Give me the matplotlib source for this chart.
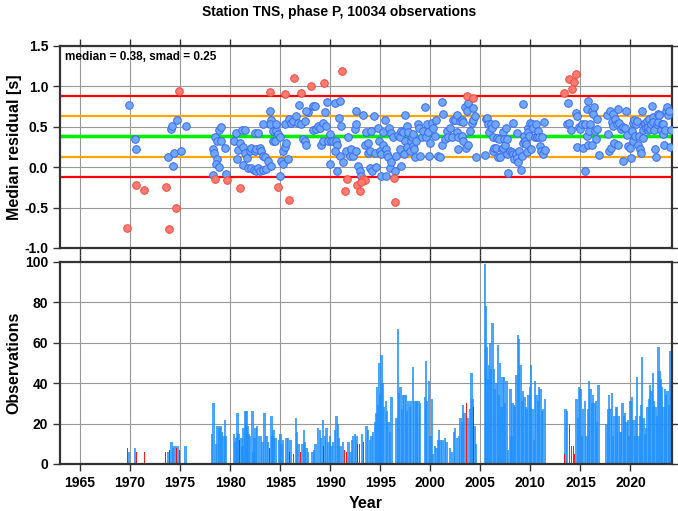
import numpy as np
import matplotlib.pyplot as plt

station = "TNS"
phase = "P"
n_obs = 10034
median = 0.38
smad = 0.25

years_ticks = list(range(1965, 2021, 5))

# median residual per time bin (year, residual [s]) - inside 2 smad
blue_pts = np.array([
    (1969.92, 0.77), (1970.45, 0.35), (1970.55, 0.22), (1973.80, 0.12), (1974.25, 0.01),
    (1974.10, 0.47), (1974.20, 0.51), (1974.70, 0.59), (1974.40, 0.18), (1975.05, 0.20),
    (1975.55, 0.51),
    (1978.25, -0.10), (1978.32, 0.23), (1978.38, 0.17), (1978.45, 0.37), (1978.65, 0.32),
    (1978.72, 0.10), (1978.55, 0.04), (1978.85, 0.00), (1978.92, 0.46), (1979.12, 0.50),
    (1979.12, 0.32), (1979.48, 0.24), (1979.58, -0.08), (1980.42, 0.32), (1980.58, 0.42),
    (1980.78, 0.21), (1980.72, 0.10), (1981.18, 0.46), (1981.52, 0.46), (1980.95, 0.30),
    (1981.28, 0.25), (1981.45, 0.18), (1981.72, 0.11), (1981.32, 0.03), (1981.78, -0.01),
    (1981.95, 0.20), (1982.12, 0.24), (1982.45, 0.20), (1982.62, 0.22), (1982.95, 0.24),
    (1983.12, 0.20), (1983.28, 0.14), (1983.45, 0.12), (1982.12, -0.01), (1982.35, -0.03),
    (1982.55, -0.05), (1982.78, -0.01), (1982.95, -0.05), (1983.28, -0.03), (1983.62, -0.02),
    (1983.78, 0.08), (1984.12, 0.02), (1984.28, 0.33), (1984.45, 0.32), (1983.95, 0.70),
    (1984.12, 0.59), (1984.02, 0.54), (1983.28, 0.54), (1982.45, 0.42), (1982.78, 0.42),
    (1984.28, 0.45), (1984.62, 0.45), (1984.78, 0.41), (1984.55, 0.53), (1984.95, 0.37),
    (1985.02, -0.11), (1985.28, 0.20), (1985.45, 0.25), (1985.62, 0.30), (1985.12, 0.08),
    (1985.28, 0.04), (1985.45, 0.53), (1985.78, 0.10), (1985.88, 0.60), (1986.12, 0.55),
    (1986.28, 0.57), (1986.62, 0.63), (1986.78, 0.55), (1986.88, 0.77), (1987.12, 0.53),
    (1987.28, 0.35), (1987.45, 0.32), (1987.62, 0.28), (1987.45, 0.57), (1987.78, 0.68),
    (1987.62, 0.70), (1988.28, 0.76), (1988.45, 0.76), (1988.28, 0.46), (1988.62, 0.47),
    (1988.78, 0.51), (1988.95, 0.49), (1989.12, 0.28), (1989.28, 0.32), (1989.45, 0.68),
    (1989.28, 0.55), (1989.62, 0.51), (1989.68, 0.81), (1989.95, 0.41), (1989.78, 0.33),
    (1990.12, 0.32), (1990.28, 0.33), (1990.45, 0.79), (1990.62, 0.32), (1990.68, 0.28),
    (1990.88, 0.61), (1990.95, 0.14), (1991.02, 0.82), (1991.12, 0.51), (1989.95, 0.04),
    (1990.45, 0.20), (1990.68, -0.05), (1991.28, 0.06), (1991.62, 0.20), (1991.78, 0.37),
    (1991.95, 0.14), (1992.12, 0.23), (1992.28, 0.14), (1992.45, 0.47), (1992.55, 0.53),
    (1992.62, 0.69), (1992.62, 0.20), (1992.78, 0.01), (1992.95, -0.05), (1993.12, -0.11),
    (1993.28, 0.65), (1993.45, 0.28), (1993.62, 0.43), (1993.78, 0.30), (1993.78, 0.18),
    (1993.95, 0.20), (1994.12, 0.45), (1994.02, -0.01), (1994.22, -0.05), (1994.35, 0.63),
    (1994.45, 0.18), (1994.62, 0.00), (1994.78, 0.48), (1994.88, 0.32), (1994.95, 0.20),
    (1995.12, -0.11), (1995.12, 0.16), (1995.28, 0.28), (1995.28, 0.43), (1995.45, 0.58),
    (1995.62, 0.23), (1995.62, -0.11), (1995.68, 0.16), (1995.78, 0.12), (1995.88, 0.49),
    (1995.95, -0.01), (1996.12, 0.06), (1996.12, 0.42), (1996.28, 0.37), (1996.45, -0.05),
    (1996.62, 0.14), (1996.78, 0.40), (1996.95, 0.37), (1996.95, 0.22), (1997.12, 0.01),
    (1997.12, 0.45), (1997.28, 0.43), (1997.35, 0.16), (1997.45, 0.65), (1997.45, 0.32),
    (1997.62, 0.51), (1997.62, 0.25), (1997.78, 0.43), (1997.95, 0.20), (1998.02, 0.32),
    (1998.12, 0.37), (1998.22, 0.26), (1998.28, 0.41), (1998.35, 0.22), (1998.45, 0.12),
    (1998.55, 0.32), (1998.78, 0.53), (1998.88, 0.48), (1998.95, 0.14), (1999.12, 0.37),
    (1999.28, 0.45), (1999.45, 0.74), (1999.55, 0.37), (1999.62, 0.53), (1999.78, 0.43),
    (1999.88, 0.14), (1999.95, 0.30), (2000.12, 0.55), (2000.22, 0.48), (2000.45, 0.39),
    (2000.55, 0.58), (2000.78, 0.14), (2000.95, 0.12), (2001.12, 0.81), (2001.12, 0.28),
    (2001.28, 0.66), (2001.45, 0.35), (2001.62, 0.45), (2001.78, 0.37),
    (2001.95, 0.49), (2002.12, 0.37), (2002.28, 0.59), (2002.45, 0.58), (2002.62, 0.65),
    (2002.68, 0.44), (2002.78, 0.37), (2002.78, 0.22), (2002.95, 0.57), (2003.12, 0.59),
    (2003.12, 0.39), (2003.28, 0.56), (2003.28, 0.33), (2003.45, 0.74), (2003.55, 0.24),
    (2003.62, 0.70), (2003.78, 0.79), (2003.78, 0.28), (2003.95, 0.45), (2004.12, 0.55),
    (2004.22, 0.73), (2004.28, 0.58), (2004.45, 0.63), (2004.52, 0.12),
    (2005.45, 0.15), (2005.55, 0.60), (2005.62, 0.61), (2005.78, 0.53), (2005.88, 0.43),
    (2006.02, 0.54), (2006.12, 0.48), (2006.22, 0.37), (2006.28, 0.20), (2006.38, 0.24),
    (2006.45, 0.53), (2006.55, 0.24), (2006.62, 0.36), (2006.78, 0.13), (2006.88, 0.35),
    (2006.95, 0.12), (2007.12, 0.22), (2007.22, 0.24), (2007.28, 0.44), (2007.38, 0.35),
    (2007.45, 0.28), (2007.55, 0.48), (2007.62, 0.35), (2007.68, 0.16), (2007.78, -0.07),
    (2007.95, 0.20), (2008.12, 0.19), (2008.22, 0.55), (2008.28, 0.16), (2008.38, 0.10),
    (2008.52, 0.16), (2008.62, 0.42), (2008.68, 0.11), (2008.78, 0.06), (2008.88, 0.20),
    (2009.02, -0.03), (2009.12, 0.14), (2009.22, 0.30), (2009.28, 0.78), (2009.35, 0.39),
    (2009.45, 0.32), (2009.55, 0.29), (2009.62, 0.19), (2009.72, 0.48), (2009.78, 0.43),
    (2009.88, 0.39), (2009.95, 0.55), (2010.02, 0.22), (2010.12, 0.54), (2010.28, 0.49),
    (2010.45, 0.37), (2010.55, 0.54), (2010.62, 0.37), (2010.78, 0.45), (2010.88, 0.37),
    (2010.95, 0.26), (2011.02, 0.20), (2011.12, 0.37), (2011.22, 0.16), (2011.38, 0.56),
    (2011.45, 0.21),
    (2013.78, 0.79), (2013.62, 0.54), (2013.88, 0.55), (2014.02, 0.46), (2014.55, 0.67),
    (2014.62, 0.63), (2014.68, 0.25), (2014.88, 0.50), (2014.95, 0.47), (2015.12, 0.53),
    (2015.22, 0.24), (2015.45, 0.53), (2015.45, -0.05), (2015.62, 0.72), (2015.62, 0.39),
    (2015.72, 0.82), (2015.78, 0.27), (2015.88, 0.45), (2015.95, 0.53), (2016.12, 0.27),
    (2016.12, 0.70), (2016.22, 0.66), (2016.35, 0.74), (2016.45, 0.45), (2016.55, 0.35),
    (2016.62, 0.60), (2016.68, 0.47), (2016.85, 0.15), (2017.62, 0.65), (2017.78, 0.41),
    (2017.88, 0.20), (2017.95, 0.70), (2018.02, 0.24), (2018.12, 0.56), (2018.22, 0.66),
    (2018.28, 0.51), (2018.35, 0.30), (2018.45, 0.60), (2018.62, 0.53), (2018.72, 0.72),
    (2018.78, 0.28), (2018.88, 0.55), (2019.02, 0.47), (2019.22, 0.08), (2019.28, 0.50),
    (2019.45, 0.48), (2019.55, 0.70), (2019.68, 0.40), (2019.78, 0.26), (2019.95, 0.24),
    (2020.05, 0.11), (2020.12, 0.45), (2020.22, 0.55), (2020.28, 0.33), (2020.35, 0.58),
    (2020.45, 0.39), (2020.55, 0.53), (2020.62, 0.57), (2020.78, 0.28), (2020.88, 0.39),
    (2020.95, 0.22), (2021.05, 0.18), (2021.12, 0.69), (2021.22, 0.36), (2021.28, 0.46),
    (2021.35, 0.54), (2021.45, 0.55), (2021.55, 0.48), (2021.62, 0.57), (2021.72, 0.46),
    (2021.78, 0.50), (2021.88, 0.60), (2021.95, 0.47), (2022.02, 0.54), (2022.12, 0.76),
    (2022.22, 0.62), (2022.28, 0.56), (2022.38, 0.46), (2022.45, 0.22), (2022.55, 0.12),
    (2022.62, 0.54), (2022.72, 0.66), (2022.78, 0.56), (2022.88, 0.65), (2023.02, 0.46),
    (2023.12, 0.54), (2023.22, 0.41), (2023.28, 0.54), (2023.35, 0.28), (2023.45, 0.46),
    (2023.55, 0.69), (2023.68, 0.74), (2023.78, 0.65), (2023.88, 0.70), (2023.95, 0.25),
    (2024.02, 0.46),
])

# bins outside 2 smad
red_pts = np.array([
    (1969.70, -0.75), (1970.60, -0.22), (1971.40, -0.28), (1973.55, -0.25), (1973.90, -0.77),
    (1974.60, -0.51), (1974.85, 0.94), (1978.50, -0.14), (1979.70, -0.16), (1980.95, -0.26),
    (1983.95, 0.93), (1986.38, 1.11), (1985.52, 0.90), (1987.05, 0.92), (1988.08, 1.01),
    (1989.35, 1.04), (1991.22, 1.19), (1984.82, -0.24), (1985.92, -0.40), (1991.65, -0.14),
    (1991.45, -0.29), (1992.72, -0.22), (1992.98, -0.30), (1993.28, -0.14), (1993.45, -0.16),
    (1993.12, -0.18), (1996.52, -0.43), (1996.35, -0.13), (2003.62, 0.88), (2004.28, 0.86),
    (2013.38, 0.92), (2013.85, 1.09), (2014.35, 1.06), (2014.52, 1.15), (2014.15, 0.97),
])

# observations per bin (year, count)
bar_pts = np.array([
    (1969.88, 6), (1970.48, 8), (1973.78, 6), (1974.12, 11), (1974.28, 8), (1974.45, 9),
    (1974.72, 9), (1975.52, 9),
    (1978.18, 15), (1978.32, 30), (1978.58, 10), (1978.72, 19), (1978.92, 18), (1979.05, 19),
    (1979.18, 16), (1979.32, 14), (1979.48, 22), (1979.58, 14), (1980.38, 15), (1980.52, 11),
    (1980.65, 13), (1980.75, 25), (1980.85, 15), (1981.12, 13), (1981.22, 9), (1981.35, 18),
    (1981.52, 26), (1981.65, 26), (1981.72, 19), (1981.85, 15), (1981.98, 14), (1982.22, 26),
    (1982.35, 6), (1982.45, 13), (1982.55, 18), (1982.68, 19), (1982.88, 14), (1983.08, 14),
    (1983.22, 11), (1983.42, 25), (1983.62, 14), (1983.78, 11), (1984.12, 24), (1984.22, 14),
    (1984.35, 17), (1984.52, 13), (1984.88, 12), (1985.02, 15), (1985.15, 10), (1985.28, 12),
    (1985.62, 13), (1985.78, 13), (1986.02, 12), (1986.55, 23), (1986.68, 16), (1986.82, 10),
    (1987.22, 10), (1987.35, 17), (1987.48, 11), (1987.62, 8), (1987.75, 6), (1988.22, 6),
    (1988.38, 7), (1988.52, 10), (1988.75, 18), (1988.95, 17), (1989.08, 13), (1989.28, 22),
    (1989.48, 14), (1989.62, 18), (1989.82, 11), (1989.95, 14), (1990.12, 9), (1990.28, 11),
    (1990.48, 17), (1990.62, 24), (1990.75, 20), (1990.88, 13), (1991.02, 9), (1991.28, 11),
    (1991.82, 11), (1992.02, 6), (1992.15, 12), (1992.28, 14), (1992.48, 15), (1992.62, 14),
    (1993.15, 15), (1993.62, 19), (1993.75, 17), (1993.95, 12), (1994.12, 14), (1994.28, 16),
    (1994.45, 21), (1994.55, 25), (1994.65, 38), (1994.75, 29), (1994.88, 50), (1994.98, 34),
    (1995.12, 54), (1995.22, 40), (1995.35, 28), (1995.55, 31), (1995.68, 26), (1995.82, 21),
    (1995.95, 16), (1996.12, 33), (1996.62, 23), (1996.78, 67), (1996.88, 35), (1997.02, 38),
    (1997.15, 27), (1997.28, 34), (1997.42, 34), (1997.55, 34), (1997.68, 26), (1997.82, 31),
    (1997.95, 28), (1998.08, 31), (1998.28, 48), (1998.42, 31), (1998.55, 31), (1998.68, 31),
    (1998.82, 31), (1998.95, 30), (1999.45, 33), (1999.55, 51), (1999.68, 31), (1999.88, 41),
    (2000.02, 14), (2000.15, 32), (2000.28, 5), (2000.48, 9), (2000.62, 8), (2000.75, 12),
    (2000.88, 17), (2001.02, 12), (2001.22, 12), (2001.45, 13), (2001.62, 11), (2001.95, 8),
    (2002.15, 6), (2002.35, 16), (2002.48, 18), (2002.68, 13), (2002.88, 14), (2003.02, 23),
    (2003.15, 21), (2003.28, 29), (2003.42, 25), (2003.78, 23), (2003.95, 27), (2004.12, 45),
    (2004.22, 32), (2004.45, 19), (2004.55, 10),
    (2005.45, 99), (2005.55, 78), (2005.62, 58), (2005.75, 42), (2005.88, 49), (2005.95, 60),
    (2006.08, 47), (2006.22, 70), (2006.35, 47), (2006.48, 37), (2006.62, 40), (2006.75, 59),
    (2006.88, 34), (2006.98, 50), (2007.12, 28), (2007.22, 43), (2007.35, 43), (2007.48, 30),
    (2007.62, 41), (2007.75, 7), (2008.02, 37), (2008.12, 14), (2008.22, 30), (2008.35, 29),
    (2008.48, 28), (2008.62, 44), (2008.75, 64), (2008.88, 62), (2009.02, 49), (2009.15, 31),
    (2009.28, 36), (2009.42, 33), (2009.55, 28), (2009.68, 27), (2009.82, 34), (2009.95, 38),
    (2010.08, 49), (2010.22, 27), (2010.35, 12), (2010.48, 41), (2010.62, 34), (2010.75, 31),
    (2010.88, 38), (2011.02, 37), (2011.15, 26), (2011.28, 27), (2011.45, 32),
    (2013.52, 27), (2013.65, 26), (2014.62, 32), (2014.75, 23), (2014.88, 38), (2015.02, 37),
    (2015.15, 14), (2015.28, 27), (2015.45, 31), (2015.62, 14), (2015.75, 27), (2015.88, 41),
    (2016.02, 37), (2016.15, 30), (2016.28, 34), (2016.42, 30), (2016.55, 31), (2016.68, 21),
    (2016.82, 39), (2017.62, 20), (2017.75, 27), (2017.88, 34), (2018.02, 27), (2018.15, 35),
    (2018.28, 14), (2018.42, 24), (2018.55, 28), (2018.68, 28), (2018.82, 24), (2018.95, 16),
    (2019.08, 16), (2019.22, 30), (2019.35, 24), (2019.48, 25), (2019.62, 21), (2019.75, 22),
    (2019.88, 14), (2020.02, 31), (2020.15, 33), (2020.28, 22), (2020.42, 14), (2020.55, 24),
    (2020.65, 43), (2020.78, 14), (2020.92, 24), (2021.05, 29), (2021.15, 53), (2021.28, 23),
    (2021.42, 15), (2021.55, 18), (2021.68, 28), (2021.82, 32), (2021.95, 39), (2022.08, 36),
    (2022.22, 45), (2022.35, 31), (2022.48, 28), (2022.62, 24), (2022.78, 58), (2022.88, 46),
    (2023.02, 42), (2023.15, 38), (2023.28, 28), (2023.42, 37), (2023.55, 34), (2023.68, 36),
    (2023.82, 29), (2023.95, 56), (2024.05, 41),
])

red_bar_pts = np.array([
    (1969.72, 8), (1970.62, 6), (1971.42, 6), (1973.52, 6), (1973.95, 7), (1974.62, 8),
    (1974.92, 7), (1978.48, 14), (1979.68, 11), (1980.95, 12), (1983.95, 8), (1984.78, 5),
    (1985.48, 13), (1985.92, 6), (1986.35, 5), (1987.05, 6), (1988.08, 5), (1989.35, 9),
    (1991.18, 7), (1991.45, 7), (1991.62, 6), (1992.75, 10), (1992.95, 10), (1993.35, 11),
    (1993.48, 12), (1996.28, 50), (1996.38, 12), (2003.62, 30), (2004.28, 28), (2013.38, 5),
    (2013.88, 20), (2014.12, 9), (2014.28, 9), (2014.42, 5),
])

plt.rcParams['font.family'] = ['Liberation Sans', 'DejaVu Sans']
plt.rcParams['font.weight'] = 'bold'

fig = plt.figure(figsize=(6.78, 5.11), dpi=100)
ax1 = fig.add_axes([0.0885, 0.5147, 0.9027, 0.3953])
ax2 = fig.add_axes([0.0885, 0.092, 0.9027, 0.3953])

for ax in (ax1, ax2):
    ax.set_xlim(1963, 2024.15)
    ax.set_xticks(years_ticks)
    ax.grid(True, color='#999999', linewidth=0.8)
    ax.set_axisbelow(True)
    ax.tick_params(direction='out', length=5, width=1, top=True, right=True,
                   labelsize=10, color='#333333')
    for s in ax.spines.values():
        s.set_linewidth(1.6)
        s.set_color('#333333')

# top: median residuals
for k, col, lw in [(2, 'red', 1.6), (1, 'orange', 1.6), (0, '#00ee00', 2.4)]:
    for sgn in (-1, 1):
        ax1.axhline(median + sgn * k * smad, color=col, lw=lw, zorder=2)
ax1.scatter(blue_pts[:, 0], blue_pts[:, 1], s=30, c='#6fa6ff', edgecolors='#3a6cf0',
            linewidths=0.7, zorder=3)
ax1.scatter(red_pts[:, 0], red_pts[:, 1], s=30, c='#ff7a70', edgecolors='#f04a40',
            linewidths=0.7, zorder=3)
ax1.set_ylim(-1.0, 1.5)
ax1.set_yticks([-1.0, -0.5, 0.0, 0.5, 1.0, 1.5])
ax1.set_yticklabels([f"{v:.1f}" for v in [-1.0, -0.5, 0.0, 0.5, 1.0, 1.5]])
ax1.tick_params(labelbottom=False)
ax1.text(0.008, 0.975, f"median = {median:.2f}, smad = {smad:.2f}", transform=ax1.transAxes,
         ha='left', va='top', fontsize=8.5)

# bottom: observations per bin
ax2.bar(bar_pts[:, 0], bar_pts[:, 1], width=0.24, color='#1e90ff', alpha=0.8,
        linewidth=0, zorder=2)
ax2.bar(red_bar_pts[:, 0], red_bar_pts[:, 1], width=0.07, color='red', alpha=0.9,
        linewidth=0, zorder=2)
ax2.set_ylim(0, 100)
ax2.set_yticks(range(0, 101, 20))

fig.text(0.5, 1 - 12 / 511, f"Station {station}, phase {phase}, {n_obs} observations",
         ha='center', va='center', fontsize=10)
fig.text(0.021, 1 - 147 / 511, "Median residual [s]", rotation=90, ha='center',
         va='center', fontsize=11.5)
fig.text(0.021, 1 - 363 / 511, "Observations", rotation=90, ha='center', va='center',
         fontsize=11.5)
fig.text(0.54, 1 - 503 / 511, "Year", ha='center', va='center', fontsize=11.5)

fig.savefig("out.png", dpi=100)
